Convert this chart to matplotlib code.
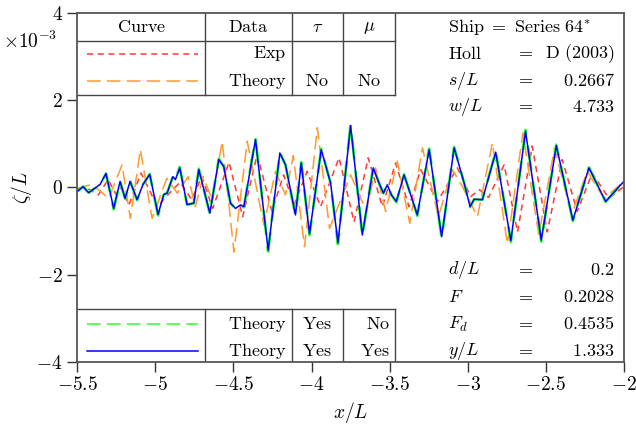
import matplotlib
matplotlib.use("Agg")
import matplotlib.pyplot as plt
import numpy as np

plt.rcParams['mathtext.fontset'] = 'cm'
plt.rcParams['font.family'] = 'serif'
plt.rcParams['font.serif'] = ['DejaVu Serif']

# wave elevation, zeta/L in units of 1e-3
exp_x = [-5.495, -5.444, -5.365, -5.303, -5.252, -5.220, -5.169, -5.092, -4.986, -4.931,
         -4.842, -4.767, -4.703, -4.633, -4.528, -4.441, -4.348, -4.254, -4.179, -4.111,
         -4.028, -3.942, -3.824, -3.728, -3.637, -3.547, -3.462, -3.376, -3.301, -3.194,
         -3.066, -2.981, -2.925, -2.867, -2.767, -2.681, -2.587, -2.491, -2.395, -2.299,
         -2.203, -2.096, -2.0]
exp_y = [-0.02, 0.0, -0.17, 0.18, -0.16, 0.0, -0.40, 0.33, -0.44, -0.21,
         0.12, -0.28, 0.25, -0.48, 0.58, -0.67, 0.76, -0.55, 0.29, -0.39,
         0.37, -0.44, 0.68, -0.79, 0.68, -0.44, 0.56, -0.44, 0.41, -0.32,
         0.45, -0.21, -0.05, -0.23, 0.52, -1.02, 0.95, -1.02, 0.64, -0.55,
         0.33, -0.25, 0.02]

# theory, no tau, no mu
th1_x = [-5.502, -5.459, -5.417, -5.374, -5.299, -5.213, -5.160, -5.096, -5.021, -4.927,
         -4.859, -4.790, -4.744, -4.694, -4.637, -4.572, -4.497, -4.412, -4.305, -4.231,
         -4.167, -4.117, -4.045, -3.963, -3.885, -3.750, -3.649, -3.590, -3.526, -3.451,
         -3.371, -3.290, -3.188, -3.098, -3.034, -2.938, -2.842, -2.746, -2.647, -2.545,
         -2.444, -2.335, -2.235, -2.128, -2.0]
th1_y = [-0.05, 0.02, 0.06, -0.02, -0.25, 0.52, -0.71, 0.87, -0.71, 0.21,
         -0.13, 0.25, -0.44, 0.25, -0.28, 1.06, -1.48, 1.06, -0.86, 0.37,
         -0.17, 0.73, -1.36, 1.37, -0.94, 0.29, -0.55, 0.45, -0.55, 0.60,
         -0.82, 0.91, -0.67, 0.41, 0.02, -0.67, 1.02, -1.29, 1.25, -1.09,
         0.91, -0.63, 0.37, -0.25, 0.14]

# theory with tau (mu on / off give nearly the same curve)
th_x = [-5.50, -5.463, -5.427, -5.354, -5.316, -5.267, -5.226, -5.194, -5.162, -5.117,
        -5.079, -5.036, -4.983, -4.946, -4.925, -4.888, -4.872, -4.844, -4.797, -4.754,
        -4.722, -4.651, -4.594, -4.562, -4.519, -4.487, -4.455, -4.433, -4.359, -4.278,
        -4.203, -4.167, -4.103, -4.066, -4.013, -3.938, -3.878, -3.831, -3.750, -3.675,
        -3.605, -3.568, -3.540, -3.515, -3.489, -3.457, -3.408, -3.355, -3.323, -3.247,
        -3.167, -3.087, -3.023, -2.985, -2.959, -2.906, -2.821, -2.724, -2.630, -2.529,
        -2.433, -2.327, -2.224, -2.117, -2.0]
th_tau_y = [-0.09, 0.02, -0.12, 0.07, 0.32, -0.50, 0.14, -0.26, 0.15, -0.29,
            0.07, 0.31, -0.64, -0.16, -0.13, 0.25, 0.18, 0.47, -0.40, -0.36,
            0.43, -0.61, 0.66, 0.48, -0.36, -0.49, -0.40, -0.45, 1.13, -1.47,
            0.81, 0.52, -0.65, 0.58, -1.09, 0.89, 0.10, -1.30, 1.45, -1.12,
            0.47, 0.10, -0.13, 0.06, -0.17, -0.34, 0.30, -0.28, -0.65, 0.89,
            -1.16, 0.93, 0.10, -0.45, -0.27, -0.28, 0.83, -1.25, 1.32, -1.24,
            0.98, -0.77, 0.46, -0.33, 0.14]
th_tau_mu_y = [-0.09, 0.02, -0.12, 0.07, 0.32, -0.48, 0.14, -0.25, 0.14, -0.28,
               0.07, 0.30, -0.62, -0.16, -0.13, 0.25, 0.18, 0.45, -0.39, -0.36,
               0.41, -0.59, 0.64, 0.48, -0.36, -0.48, -0.40, -0.44, 1.10, -1.44,
               0.79, 0.52, -0.63, 0.56, -1.06, 0.87, 0.10, -1.27, 1.42, -1.09,
               0.45, 0.10, -0.13, 0.06, -0.17, -0.32, 0.29, -0.28, -0.63, 0.87,
               -1.13, 0.91, 0.10, -0.44, -0.27, -0.28, 0.81, -1.22, 1.29, -1.21,
               0.96, -0.75, 0.45, -0.32, 0.14]

fig = plt.figure(figsize=(6.36, 4.36), dpi=100)
ax = fig.add_axes([0.1215, 0.170, 0.8595, 0.800])

kw = dict(solid_joinstyle='round', dash_joinstyle='round', dash_capstyle='butt')
ax.plot(exp_x, exp_y, color='#ff3838', lw=1.1, dashes=(4, 3), **kw)
ax.plot(th1_x, th1_y, color='#ff9a30', lw=1.1, dashes=(9, 4), **kw)
ax.plot(th_x, th_tau_y, color='#30ff30', lw=2.0, dashes=(9, 4), **kw)
ax.plot(th_x, th_tau_mu_y, color='#0000ff', lw=1.1, **kw)

ax.set_xlim(-5.5, -2)
ax.set_ylim(-4, 4)
xt = [-5.5, -5, -4.5, -4, -3.5, -3, -2.5, -2]
ax.set_xticks(xt)
ax.set_xticklabels([r'$%g$' % v for v in xt])
yt = [-4, -2, 0, 2, 4]
ax.set_yticks(yt)
ax.set_yticklabels([r'$%g$' % v for v in yt])
ax.tick_params(direction='out', length=7, width=1.0, labelsize=14, top=False, right=False, colors='#333333', labelcolor='black')
for s in ax.spines.values():
    s.set_linewidth(1.3)
    s.set_color('#555555')

ax.set_xlabel(r'$x/L$', fontsize=14, labelpad=4)
ax.set_ylabel(r'$\zeta/L$', fontsize=14, labelpad=2)
fig.text(0.005, 0.905, r'$\times10^{-3}$', fontsize=14, ha='left', va='center')

# tables in the corners
lc = '#444444'
cols = [-4.683, -4.127, -3.799, -3.468]
for c in cols:
    ax.plot([c, c], [2.12, 4], color=lc, lw=1.0)
    ax.plot([c, c], [-4, -2.79], color=lc, lw=1.0)
ax.plot([-5.5, cols[-1]], [3.37, 3.37], color=lc, lw=1.0)
ax.plot([-5.5, cols[-1]], [2.12, 2.12], color=lc, lw=1.0)
ax.plot([-5.5, cols[-1]], [-2.79, -2.79], color=lc, lw=1.0)

fs = 13
def t(x, y, s, ha='center'):
    ax.text(x, y, s, fontsize=fs, ha=ha, va='center')

t(-5.09, 3.67, r'$\mathrm{Curve}$')
t(-4.405, 3.67, r'$\mathrm{Data}$')
t(-3.963, 3.67, r'$\tau$')
t(-3.633, 3.67, r'$\mu$')
t(-4.16, 3.07, r'$\mathrm{Exp}$', 'right')
t(-4.16, 2.45, r'$\mathrm{Theory}$', 'right')
t(-3.963, 2.45, r'$\mathrm{No}$')
t(-3.633, 2.45, r'$\mathrm{No}$')
ax.plot([-5.44, -4.73], [3.07, 3.07], color='#ff3838', lw=1.1, dashes=(4, 3))
ax.plot([-5.44, -4.73], [2.45, 2.45], color='#ff9a30', lw=1.1, dashes=(9, 4))

t(-4.16, -3.14, r'$\mathrm{Theory}$', 'right')
t(-4.16, -3.76, r'$\mathrm{Theory}$', 'right')
t(-3.963, -3.14, r'$\mathrm{Yes}$')
t(-3.963, -3.76, r'$\mathrm{Yes}$')
t(-3.50, -3.14, r'$\mathrm{No}$', 'right')
t(-3.50, -3.76, r'$\mathrm{Yes}$', 'right')
ax.plot([-5.44, -4.73], [-3.14, -3.14], color='#30ff30', lw=1.1, dashes=(9, 4))
ax.plot([-5.44, -4.73], [-3.76, -3.76], color='#0000ff', lw=1.1)

# parameters on the right
lab_x, eq_x, val_x = -3.124, -2.64, -2.06
t(lab_x, 3.67, r'$\mathrm{Ship}\ =\ \mathrm{Series\ 64}^{*}$', 'left')
params_top = [(r'$\mathrm{Holl}$', 3.07, r'$\mathrm{D\ (2003)}$'),
              (r'$s/L$', 2.45, r'$0.2667$'),
              (r'$w/L$', 1.85, r'$4.733$')]
params_bot = [(r'$d/L$', -1.89, r'$0.2$'),
              (r'$F$', -2.52, r'$0.2028$'),
              (r'$F_d$', -3.14, r'$0.4535$'),
              (r'$y/L$', -3.76, r'$1.333$')]
for lab, y, val in params_top + params_bot:
    t(lab_x, y, lab, 'left')
    t(eq_x, y + 0.05, r'$=$')
    t(val_x, y, val, 'right')

plt.savefig('out.png', dpi=100)
